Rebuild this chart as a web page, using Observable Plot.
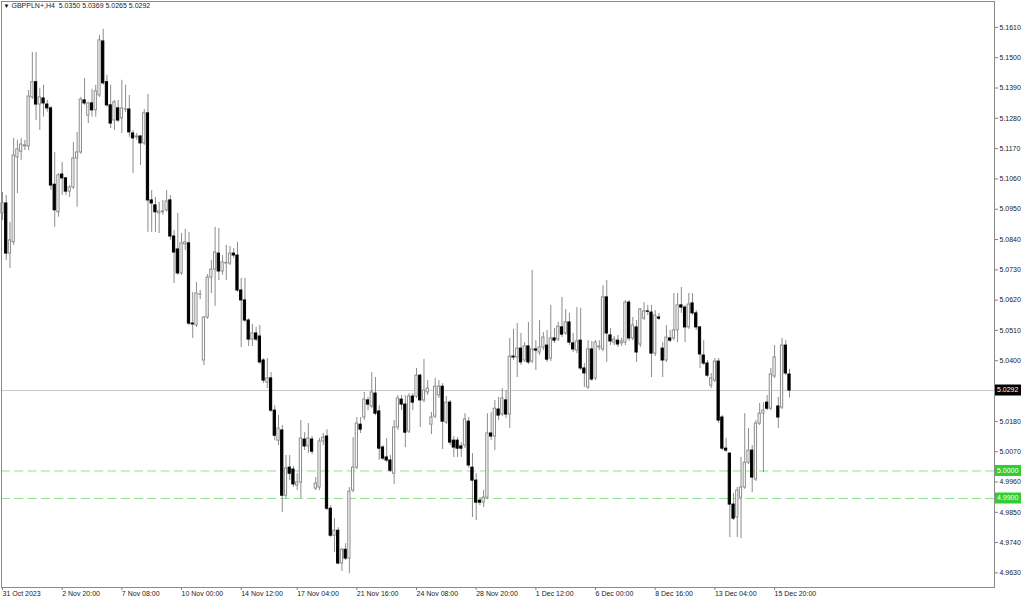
<!DOCTYPE html>
<html><head><meta charset="utf-8">
<script src="https://cdn.jsdelivr.net/npm/d3@7"></script>
<script src="https://cdn.jsdelivr.net/npm/@observablehq/plot@0.6"></script>
<style>
body{margin:0;background:#fff;}
#chart svg{display:block;}
</style></head><body><div id="chart"></div>
<script>
const symbolTitle = "GBPPLN+,H4";
const lastQuote = ["5.0350", "5.0369", "5.0265", "5.0292"];

const opens = [
5.0935,5.0971,5.0789,5.0830,5.1138,5.1159,5.1178,5.1178,5.1356,5.1411,
5.1330,5.1352,5.1330,5.1316,5.1039,5.0939,5.1076,5.1062,5.1014,5.1029,
5.1134,5.1156,5.1345,5.1290,5.1334,5.1309,5.1363,5.1559,5.1411,5.1327,
5.1272,5.1316,5.1280,5.1312,5.1312,5.1225,5.1211,5.1214,5.1189,5.1298,
5.0982,5.0964,5.0935,5.0939,5.0946,5.0982,5.0851,5.0804,5.0717,5.0822,
5.0826,5.0535,5.0528,5.0640,5.0401,5.0557,5.0702,5.0731,5.0789,5.0724,
5.0753,5.0753,5.0789,5.0782,5.0655,5.0619,5.0546,5.0477,5.0499,5.0488,
5.0401,5.0321,5.0336,5.0219,5.0110,5.0147,4.9910,5.0012,5.0005,4.9947,
4.9958,5.0114,5.0089,5.0114,4.9936,4.9940,5.0107,5.0125,4.9863,4.9765,
4.9783,4.9664,4.9714,4.9682,4.9929,5.0012,5.0168,5.0194,5.0256,5.0234,
5.0281,5.0216,5.0085,5.0049,5.0038,4.9990,5.0158,5.0259,5.0241,5.0143,
5.0270,5.0270,5.0346,5.0256,5.0285,5.0168,5.0197,5.0274,5.0306,5.0176,
5.0248,5.0110,5.0110,5.0089,5.0092,5.0179,5.0012,4.9965,4.9892,4.9885,
4.9903,5.0136,5.0125,5.0223,5.0205,5.0256,5.0205,5.0415,5.0412,5.0444,
5.0401,5.0452,5.0397,5.0441,5.0430,5.0448,5.0455,5.0408,5.0481,5.0477,
5.0521,5.0499,5.0539,5.0463,5.0437,5.0473,5.0372,5.0303,5.0441,5.0336,
5.0448,5.0441,5.0630,5.0492,5.0466,5.0473,5.0463,5.0466,5.0611,5.0481,
5.0521,5.0459,5.0553,5.0579,5.0575,5.0426,5.0557,5.0444,5.0401,5.0481,
5.0481,5.0510,5.0601,5.0593,5.0521,5.0608,5.0572,5.0521,5.0419,5.0390,
5.0310,5.0328,5.0397,5.0194,5.0081,5.0063,4.9878,4.9831,4.9903,4.9940,
5.0030,5.0074,4.9969,5.0172,5.0208,5.0248,5.0226,5.0343,5.0234,5.0230,
5.0455,5.0350];

const highs = [
5.1011,5.1000,5.0902,5.1207,5.1200,5.1207,5.1200,5.1381,5.1519,5.1519,
5.1389,5.1400,5.1345,5.1323,5.1156,5.1080,5.1120,5.1065,5.1036,5.1193,
5.1229,5.1356,5.1425,5.1338,5.1385,5.1400,5.1581,5.1603,5.1436,5.1400,
5.1345,5.1345,5.1418,5.1400,5.1363,5.1236,5.1225,5.1218,5.1312,5.1367,
5.1018,5.0993,5.0975,5.0982,5.1018,5.1000,5.0873,5.0935,5.0862,5.0877,
5.0866,5.0648,5.0684,5.0655,5.0560,5.0713,5.0764,5.0884,5.0880,5.0782,
5.0819,5.0815,5.0808,5.0830,5.0699,5.0699,5.0553,5.0532,5.0521,5.0528,
5.0408,5.0408,5.0357,5.0237,5.0201,5.0165,5.0056,5.0056,5.0016,4.9990,
5.0183,5.0139,5.0172,5.0125,4.9976,5.0118,5.0136,5.0150,4.9874,4.9827,
4.9794,4.9718,4.9736,4.9940,5.0121,5.0194,5.0194,5.0285,5.0267,5.0357,
5.0339,5.0237,5.0092,5.0118,5.0056,5.0183,5.0274,5.0274,5.0274,5.0281,
5.0281,5.0372,5.0350,5.0405,5.0328,5.0212,5.0336,5.0328,5.0317,5.0270,
5.0256,5.0125,5.0121,5.0103,5.0208,5.0194,5.0063,4.9990,4.9903,4.9929,
5.0208,5.0212,5.0256,5.0267,5.0299,5.0292,5.0481,5.0514,5.0535,5.0499,
5.0466,5.0539,5.0728,5.0473,5.0546,5.0502,5.0510,5.0601,5.0517,5.0539,
5.0630,5.0586,5.0572,5.0499,5.0593,5.0590,5.0390,5.0473,5.0470,5.0473,
5.0473,5.0673,5.0691,5.0517,5.0488,5.0492,5.0481,5.0619,5.0619,5.0557,
5.0546,5.0590,5.0611,5.0601,5.0601,5.0582,5.0572,5.0466,5.0528,5.0510,
5.0644,5.0644,5.0666,5.0601,5.0644,5.0644,5.0582,5.0524,5.0473,5.0401,
5.0354,5.0408,5.0408,5.0201,5.0118,5.0065,4.9918,4.9940,5.0049,5.0208,
5.0154,5.0092,5.0183,5.0245,5.0248,5.0274,5.0372,5.0455,5.0267,5.0481,
5.0473,5.0369];

const lows = [
5.0909,5.0764,5.0735,5.0819,5.1007,5.1127,5.1163,5.1163,5.1348,5.1272,
5.1236,5.1284,5.1302,5.1018,5.0884,5.0921,5.1000,5.1000,5.0993,5.1022,
5.0957,5.1149,5.1327,5.1261,5.1284,5.1284,5.1356,5.1400,5.1320,5.1243,
5.1236,5.1265,5.1225,5.1302,5.1211,5.1080,5.1200,5.1109,5.1182,5.0866,
5.0866,5.0866,5.0862,5.0928,5.0939,5.0837,5.0680,5.0710,5.0710,5.0800,
5.0528,5.0481,5.0521,5.0622,5.0383,5.0550,5.0644,5.0597,5.0691,5.0710,
5.0691,5.0746,5.0771,5.0648,5.0448,5.0539,5.0452,5.0452,5.0470,5.0386,
5.0317,5.0299,5.0212,5.0110,5.0092,4.9849,4.9899,4.9965,4.9940,4.9929,
4.9899,5.0074,5.0063,5.0059,4.9929,4.9929,5.0092,4.9856,4.9758,4.9704,
4.9660,4.9635,4.9675,4.9627,4.9921,5.0005,5.0136,5.0183,5.0219,5.0226,
5.0201,5.0038,5.0038,5.0030,4.9994,4.9951,5.0147,5.0219,5.0085,5.0136,
5.0219,5.0263,5.0158,5.0248,5.0274,5.0132,5.0190,5.0263,5.0078,5.0168,
5.0092,5.0049,5.0049,5.0049,5.0081,5.0009,4.9831,4.9820,4.9874,4.9867,
4.9896,5.0110,5.0074,5.0183,5.0197,5.0190,5.0154,5.0401,5.0339,5.0383,
5.0394,5.0386,5.0390,5.0365,5.0419,5.0437,5.0394,5.0397,5.0463,5.0470,
5.0484,5.0492,5.0455,5.0430,5.0426,5.0365,5.0303,5.0296,5.0325,5.0328,
5.0437,5.0433,5.0394,5.0455,5.0455,5.0448,5.0452,5.0455,5.0470,5.0473,
5.0394,5.0448,5.0546,5.0564,5.0339,5.0415,5.0546,5.0339,5.0394,5.0466,
5.0473,5.0466,5.0572,5.0466,5.0514,5.0564,5.0510,5.0372,5.0383,5.0339,
5.0299,5.0321,5.0172,5.0074,5.0067,4.9758,4.9820,4.9758,4.9754,4.9933,
5.0023,4.9921,4.9962,5.0165,4.9994,5.0219,5.0219,5.0336,5.0154,5.0223,
5.0346,5.0265];

const closes = [
5.0971,5.0789,5.0837,5.1145,5.1167,5.1185,5.1182,5.1359,5.1411,5.1330,
5.1356,5.1334,5.1316,5.1036,5.0946,5.1073,5.1062,5.1014,5.1029,5.1134,
5.1156,5.1348,5.1334,5.1334,5.1309,5.1378,5.1563,5.1407,5.1327,5.1261,
5.1338,5.1272,5.1316,5.1313,5.1229,5.1207,5.1214,5.1189,5.1298,5.0982,
5.0971,5.0939,5.0942,5.0942,5.0978,5.0851,5.0793,5.0717,5.0826,5.0830,
5.0535,5.0532,5.0644,5.0641,5.0557,5.0702,5.0731,5.0793,5.0724,5.0757,
5.0755,5.0789,5.0782,5.0655,5.0619,5.0546,5.0477,5.0499,5.0477,5.0394,
5.0328,5.0336,5.0219,5.0128,5.0154,4.9910,5.0009,4.9990,4.9951,4.9958,
5.0118,5.0089,5.0118,5.0070,4.9954,5.0107,5.0121,4.9863,4.9765,4.9783,
4.9664,4.9714,4.9682,4.9925,5.0012,5.0172,5.0150,5.0259,5.0241,5.0285,
5.0208,5.0081,5.0045,5.0038,5.0001,5.0158,5.0263,5.0241,5.0139,5.0270,
5.0248,5.0346,5.0256,5.0292,5.0299,5.0194,5.0306,5.0306,5.0179,5.0248,
5.0103,5.0085,5.0081,5.0081,5.0187,5.0020,4.9965,4.9885,4.9885,4.9903,
5.0136,5.0125,5.0226,5.0201,5.0263,5.0205,5.0415,5.0412,5.0444,5.0394,
5.0452,5.0394,5.0441,5.0437,5.0448,5.0484,5.0404,5.0481,5.0473,5.0524,
5.0495,5.0539,5.0466,5.0441,5.0470,5.0372,5.0354,5.0441,5.0332,5.0466,
5.0452,5.0630,5.0499,5.0470,5.0477,5.0459,5.0470,5.0611,5.0481,5.0528,
5.0430,5.0586,5.0579,5.0578,5.0426,5.0564,5.0553,5.0401,5.0484,5.0473,
5.0510,5.0601,5.0593,5.0521,5.0604,5.0572,5.0521,5.0423,5.0390,5.0346,
5.0336,5.0397,5.0183,5.0081,5.0074,4.9878,4.9827,4.9929,4.9940,5.0030,
5.0074,4.9976,5.0172,5.0208,5.0219,5.0226,5.0350,5.0412,5.0194,5.0455,
5.0354,5.0292];

const timeTickIndex = [0,16,32,48,64,79,95,111,127,143,159,175,191,207];
const timeTickLabels = ["31 Oct 2023","2 Nov 20:00","7 Nov 08:00","10 Nov 00:00","14 Nov 12:00","17 Nov 04:00","21 Nov 16:00","24 Nov 08:00","28 Nov 20:00","1 Dec 12:00","6 Dec 00:00","8 Dec 16:00","13 Dec 04:00","15 Dec 20:00"];
const priceTicks = [5.1610,5.1500,5.1390,5.1280,5.1170,5.1060,5.0950,5.0840,5.0730,5.0620,5.0510,5.0400,5.0180,5.0070,4.9960,4.9850,4.9740,4.9630];
const levelLines = [5.0000, 4.9900];
const bidPrice = 5.0292;

const candles = opens.map((o, i) => ({i, open: o, high: highs[i], low: lows[i], close: closes[i]}));
const isUp = d => d.close >= d.open;
const labelOf = new Map(timeTickIndex.map((t, k) => [t, timeTickLabels[k]]));
const FONT = "'Liberation Sans', Arial, sans-serif";
const titleText = symbolTitle + "  " + lastQuote.join(" ");

const chart = Plot.plot({
  width: 1024, height: 600,
  marginTop: 1, marginRight: 30, marginBottom: 13, marginLeft: 1,
  style: {fontFamily: FONT, fontSize: "7px", color: "#1a1a1a", background: "#fff"},
  x: {type: "linear", domain: [-0.268, 265.96], axis: null, label: null},
  y: {domain: [4.9577, 5.1704], axis: null, label: null},
  marks: [
    Plot.ruleY([bidPrice], {stroke: "#c8c8c8", strokeWidth: 1}),
    Plot.ruleY(levelLines, {stroke: "#90e090", strokeWidth: 1, strokeDasharray: "9,4.3"}),
    Plot.ruleX(candles, {x: "i", y1: "low", y2: "high", stroke: "#8c8c8c", strokeWidth: 1}),
    Plot.rect(candles, {
      x1: d => d.i - 0.3, x2: d => d.i + 0.3, y1: "open", y2: "close",
      fill: d => isUp(d) ? "#ffffff" : "#000000",
      stroke: d => isUp(d) ? "#8c8c8c" : "#000000", strokeWidth: 1
    }),
    Plot.axisY(priceTicks, {anchor: "right", label: null, tickSize: 3, tickPadding: 2, tickFormat: d => d.toFixed(4), stroke: "#808080", fill: "#222", fontSize: 7}),
    Plot.axisX(timeTickIndex, {anchor: "bottom", label: null, tickSize: 3, tickPadding: 1, tickFormat: d => labelOf.get(d), textAnchor: "start", stroke: "#808080", fill: "#222", fontSize: 7}),
    Plot.frame({stroke: "#8a8a8a"}),
    Plot.text(["▼"], {frameAnchor: "top-left", dx: 2, dy: 2, lineAnchor: "top", textAnchor: "start", fontSize: 6, fill: "#000"}),
    Plot.text([titleText], {frameAnchor: "top-left", dx: 10, dy: 2, lineAnchor: "top", textAnchor: "start", fontSize: 7, fill: "#222"})
  ]
});
document.getElementById("chart").appendChild(chart);

// price labels in the right margin, placed through the chart's own y scale
const yScale = chart.scale("y");
const svg = d3.select(chart.tagName.toLowerCase() === "svg" ? chart : chart.querySelector("svg"));
const boxes = [
  {v: bidPrice, bg: "#000000", fg: "#ffffff"},
  {v: levelLines[0], bg: "#32cd32", fg: "#ffffff"},
  {v: levelLines[1], bg: "#32cd32", fg: "#ffffff"}
];
const g = svg.append("g").attr("text-anchor", "start");
for (const b of boxes) {
  const yp = yScale.apply(b.v);
  g.append("rect").attr("x", 995).attr("y", yp - 5.5).attr("width", 26).attr("height", 11).attr("fill", b.bg);
  g.append("text").attr("x", 997).attr("y", yp).attr("dy", "0.34em").attr("text-anchor", "start")
    .attr("font-family", FONT).attr("font-size", 7).attr("fill", b.fg).text(b.v.toFixed(4));
}
</script>
</body></html>
